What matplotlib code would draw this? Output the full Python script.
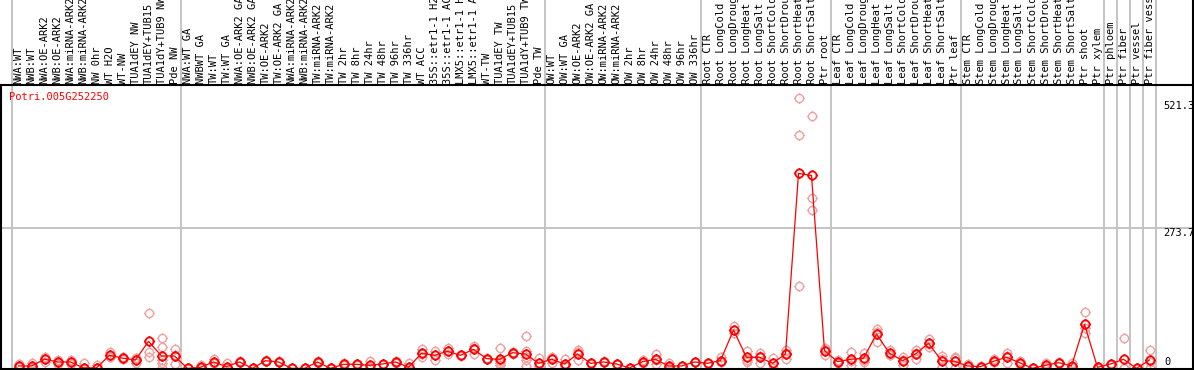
import matplotlib
matplotlib.use("Agg")
import matplotlib.pyplot as plt
from matplotlib.path import Path
from matplotlib.lines import Line2D
from matplotlib.transforms import blended_transform_factory
import numpy as np

# Nomi dei campioni (colonne), nell'ordine del grafico
samples = [
    "NWA:WT", "NWB:WT", "NWA:OE-ARK2", "NWB:OE-ARK2", "NWA:miRNA-ARK2", "NWB:miRNA-ARK2",
    "NW 0hr", "WT H2O", "WT-NW", "TUA1dEY NW", "TUA1dEY+TUB15", "TUA1dY+TUB9 NW", "Pde NW",
    "NWA:WT GA", "NWBWT GA", "TW:WT", "TW:WT GA", "NWA:OE-ARK2 GA", "NWB:OE-ARK2 GA",
    "TW:OE-ARK2", "TW:OE-ARK2 GA", "NWA:miRNA-ARK2", "NWB:miRNA-ARK2", "TW:miRNA-ARK2",
    "TW:miRNA-ARK2", "TW 2hr", "TW 8hr", "TW 24hr", "TW 48hr", "TW 96hr", "TW 336hr",
    "WT ACC", "35S::etr1-1 H2", "35S::etr1-1 AC", "LMX5::etr1-1 H", "LMX5::etr1-1 A",
    "WT-TW", "TUA1dEY TW", "TUA1dEY+TUB15", "TUA1dY+TUB9 TW", "Pde TW",
    "OW:WT", "OW:WT GA", "OW:OE-ARK2", "OW:OE-ARK2 GA", "OW:miRNA-ARK2", "OW:miRNA-ARK2",
    "OW 2hr", "OW 8hr", "OW 24hr", "OW 48hr", "OW 96hr", "OW 336hr",
    "Root CTR", "Root LongCold", "Root LongDroug", "Root LongHeat", "Root LongSalt",
    "Root ShortCold", "Root ShortDrou", "Root ShortHeat", "Root ShortSalt", "Ptr root",
    "Leaf CTR", "Leaf LongCold", "Leaf LongDroug", "Leaf LongHeat", "Leaf LongSalt",
    "Leaf ShortCold", "Leaf ShortDrou", "Leaf ShortHeat", "Leaf ShortSalt", "Ptr leaf",
    "Stem CTR", "Stem LongCold", "Stem LongDroug", "Stem LongHeat", "Stem LongSalt",
    "Stem ShortCold", "Stem ShortDrou", "Stem ShortHeat", "Stem ShortSalt", "Ptr shoot",
    "Ptr xylem", "Ptr phloem", "Ptr fiber", "Ptr vessel", "Ptr fiber vess",
]

# Valori medi
means = [
    4.7, 4.7, 18, 12.5, 12.5, 0.8, 1, 25.5, 20, 16.4,
    52.8, 24.2, 24.2, 0, 2.1, 12.5, 3.4, 12.5, 0, 15,
    12.5, 0, 0, 12.5, 0, 7.9, 7.9, 6, 8.6, 12.5,
    2.1, 29.4, 25.5, 33.3, 25.5, 37.2, 19, 17.7, 30.6, 28,
    9.9, 17.7, 8.6, 28, 9.9, 12.5, 8.6, 0.8, 13.1, 17.7,
    4.7, 4.7, 12.5, 9.9, 15.1, 74.9, 21.6, 21.6, 9.9, 28,
    380, 376, 34.6, 13.1, 17.7, 19.7, 67, 29.4, 15.1, 28,
    49, 15.1, 13.8, 4.7, 3.4, 13.8, 21.6, 11.2, 0.1, 6,
    11.2, 4.7, 85.9, 2.1, 8.6, 17.7, 0, 16.4,
]

# Repliche di ogni campione
reps = [
    [8.6, 3, 2.5], [9.9, 2.5, 1.7], [21.6, 19, 13.1], [16.4, 12.5, 8.6], [16.4, 12.5, 8.6],
    [9.9, 0, 0, 0], [6, 0, 0], [32.6, 21.6, 22.3], [22.9, 19, 18], [19.7, 19.5, 9.9],
    [107.3, 32.6, 21.6], [58.6, 42.6, 16.4, 11.2, 0], [37.2, 8.6, 26.8], [0, 0, 0], [6, 0.3, 0],
    [17.7, 10, 9.8], [9.9, 0.2, 0], [13.5, 12, 12], [0, 0, 0], [16, 15, 14],
    [14, 12, 11.5], [0, 0, 0], [0, 0, 0], [13.8, 12.5, 11.2], [0, 0, 0],
    [9.9, 7.5, 6.3], [8.6, 7.9, 7.2], [15.1, 2, 1], [9.5, 8.6, 7.7], [13.8, 12.5, 11.2],
    [9.9, 0, 0], [37.2, 28, 23], [34.6, 25.5, 16.4], [39.1, 33.3, 28], [26, 25.5, 25],
    [43.8, 39.8, 28], [20, 19, 18], [39.1, 9.9, 6.6, 15], [32.6, 30.6, 28.6], [63.2, 34.6, 21.6, 16.4, 4],
    [21, 5, 3.7], [22.9, 20.3, 9.9], [17.7, 4, 4], [35.9, 31.7, 16.4], [10.5, 9.9, 9.3],
    [13.5, 12.5, 11.5], [9.3, 8.6, 7.9], [1.5, 0.8, 0], [16.4, 12, 11], [28, 16.4, 8.6],
    [9.9, 2.5, 1.7], [5.5, 4.7, 3.9], [13, 12.5, 12], [10.5, 9.9, 9.3], [21.6, 12, 11.7],
    [82.6, 74, 68.4], [34.6, 17, 13.1], [30.6, 24.3, 9.9], [19.7, 9.9, 0], [35.9, 30.4, 17.7],
    [526.5, 455, 160.6], [492, 331.6, 308.8], [39.1, 38.7, 26], [16.4, 12, 11], [32.6, 14, 6.6],
    [30.6, 15.4, 13.1], [77, 71.6, 52.2], [35.9, 26.5, 25.8], [21.6, 17, 6.6], [35.9, 30.4, 17.7],
    [57.3, 47.1, 42.6], [24.2, 19, 2.1], [19.7, 21.6, 0.1], [8.6, 3, 2.5], [4, 3.4, 2.8],
    [17.7, 12, 11.7], [29.4, 24.2, 11.2], [15.1, 9.3, 9.2], [0.3, 0, 0], [11.2, 3.4, 3.4],
    [12, 11.2, 10.4], [9.9, 2.1, 2.1], [110.6, 78.7, 68.4], [2.5, 2.1, 1.7], [9.5, 8.6, 7.7],
    [58.6, 0, 0], [0, 0, 0], [35.9, 13.3, 0],
]

# Inizio di ogni gruppo di colonne (linee grigie verticali)
group_starts = [0, 13, 41, 53, 63, 73, 84, 85, 86, 87, 88]
gene = "Potri.005G252250"
ytick_vals = [521.3, 273.7]

W, H = 1194, 370
FONT = "DejaVu Sans Mono"
FS = 7.5

def fx(px):
    return px / W

def fy(py):
    return 1 - py / H

fig = plt.figure(figsize=(W / 100, H / 100), dpi=100)
ax = fig.add_axes([0, fy(369), 1, fy(85) - fy(369)])
ax.set_xlim(-18.5 / 13, (W - 18.5) / 13)
ax.set_ylim(-1.2, 552.4)
ax.axis("off")
blend = blended_transform_factory(ax.transData, fig.transFigure)

# Griglia
for k in group_starts:
    ax.plot([k - 0.5, k - 0.5], [0, 1], transform=blend, color="#c4c4c4", lw=1.4,
            clip_on=False, zorder=1)
ax.axhline(ytick_vals[1], color="#c4c4c4", lw=1.4, zorder=1)

# Bordi neri
fig.add_artist(Line2D([0, 1], [fy(85), fy(85)], color="black", lw=1.5))
fig.add_artist(Line2D([0, 1], [fy(369), fy(369)], color="black", lw=1.5))
fig.add_artist(Line2D([fx(1), fx(1)], [0, fy(85)], color="black", lw=1.5))
fig.add_artist(Line2D([fx(1193), fx(1193)], [0, 1], color="black", lw=1.5))

# Marker: cerchio con tacche
t = np.linspace(0, 2 * np.pi, 33)
circ = np.column_stack([np.cos(t), np.sin(t)])
verts = list(map(tuple, circ)) + [(0, 1), (0, 1.3), (0, -1), (0, -1.3),
                                   (1, 0), (1.3, 0), (-1, 0), (-1.3, 0)]
codes = [Path.MOVETO] + [Path.LINETO] * 32 + [Path.MOVETO, Path.LINETO] * 4
ring = Path(verts, codes)

x = np.arange(len(samples))
for i, r in enumerate(reps):
    ax.plot([i] * len(r), r, linestyle="none", marker=ring, ms=7.6, mec="#f0a0a0",
            mfc="none", mew=1.0, zorder=2)
ax.plot(x, means, color="red", lw=0.9, zorder=3)
ax.plot(x, means, linestyle="none", marker=ring, ms=7.6, mec="red", mfc="none",
        mew=1.3, zorder=4)

# Etichette dei campioni
for i, s in enumerate(samples):
    ax.text(i, fy(84), s, transform=blend, rotation=90, ha="center", va="bottom",
            fontsize=FS, family=FONT, clip_on=False)

fig.text(fx(9), fy(97), gene, color="red", va="center", ha="left", fontsize=FS, family=FONT)

# Etichette asse y a destra
ytrans = blended_transform_factory(fig.transFigure, ax.transData)
for v in ytick_vals:
    ax.text(fx(1163), v, f"{v}", transform=ytrans, va="top", ha="left",
            fontsize=FS, family=FONT, clip_on=False)
fig.text(fx(1164), fy(362), "0", va="center", ha="left", fontsize=FS, family=FONT)

fig.savefig("out.png", dpi=100)
